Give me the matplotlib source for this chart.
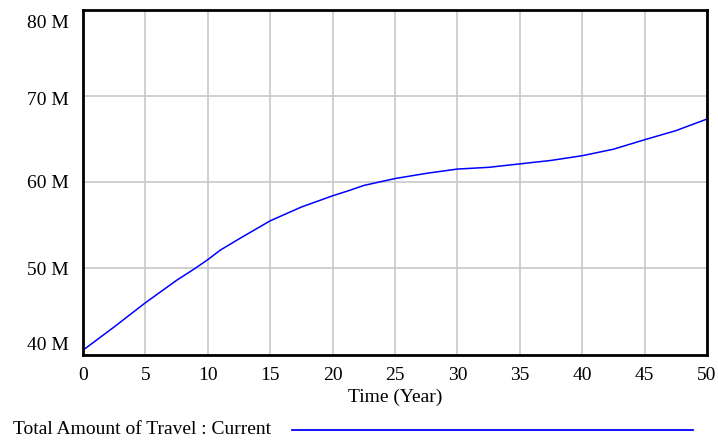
import matplotlib
matplotlib.use("Agg")
import matplotlib.pyplot as plt
from matplotlib.lines import Line2D
from matplotlib.transforms import ScaledTranslation

# Total Amount of Travel : Current (millions)
years = [0, 2.5, 5, 7.5, 9, 10, 11, 12.5, 15, 17.5, 20, 21.3, 22.5, 25,
         27.5, 30, 32.5, 35, 37.5, 40, 42.5, 45, 47.5, 50]
travel = [40.5, 43.2, 46.0, 48.6, 50.0, 51.0, 52.1, 53.4, 55.5, 57.1, 58.4,
          59.0, 59.6, 60.4, 61.0, 61.5, 61.7, 62.1, 62.5, 63.05, 63.8, 64.9,
          65.95, 67.3]

x_ticks = [0, 5, 10, 15, 20, 25, 30, 35, 40, 45, 50]
y_ticks = [40, 50, 60, 70, 80]
y_labels = ["40 M", "50 M", "60 M", "70 M", "80 M"]
series_name = "Total Amount of Travel : Current"

plt.rcParams['font.family'] = ['Liberation Serif', 'DejaVu Serif']
fs = 14

fig = plt.figure(figsize=(7.18, 4.41), dpi=100)
ax = fig.add_axes([83 / 718, 1 - 354.5 / 441, 624 / 718, 345 / 441])

ax.plot(years, travel, color="#0000ff", lw=1.1)

ax.set_xlim(0, 50)
ax.set_ylim(40, 80)
ax.set_xticks(x_ticks)
ax.set_yticks(y_ticks)
ax.set_yticklabels(y_labels)
ax.grid(True, color="#c8c8c8", lw=1.2)
ax.set_axisbelow(True)
ax.tick_params(length=0, labelsize=fs, colors="black")
ax.tick_params(axis="y", pad=10)
ax.tick_params(axis="x", pad=9)

# end labels sit inside the frame, like the original
labels = ax.get_yticklabels()
labels[0].set_transform(labels[0].get_transform()
                        + ScaledTranslation(0, 11 / 100, fig.dpi_scale_trans))
labels[-1].set_transform(labels[-1].get_transform()
                         + ScaledTranslation(0, -12 / 100, fig.dpi_scale_trans))
labels[3].set_transform(labels[3].get_transform()
                        + ScaledTranslation(0, -3 / 100, fig.dpi_scale_trans))
for s in ax.spines.values():
    s.set_linewidth(2)
    s.set_color("black")

ax.set_xlabel("Time (Year)", fontsize=fs, va="center")
ax.xaxis.set_label_coords(0.5, (354.5 - 397) / 345)

# legend drawn under the chart, as in the reference
fig.text(13 / 718, 1 - 430 / 441, series_name, fontsize=fs, va="center", ha="left")
fig.add_artist(Line2D([292 / 718, 693 / 718], [1 - 430 / 441, 1 - 430 / 441],
                      color="#0000ff", lw=1.3, transform=fig.transFigure))

fig.savefig("out.png", dpi=100)
